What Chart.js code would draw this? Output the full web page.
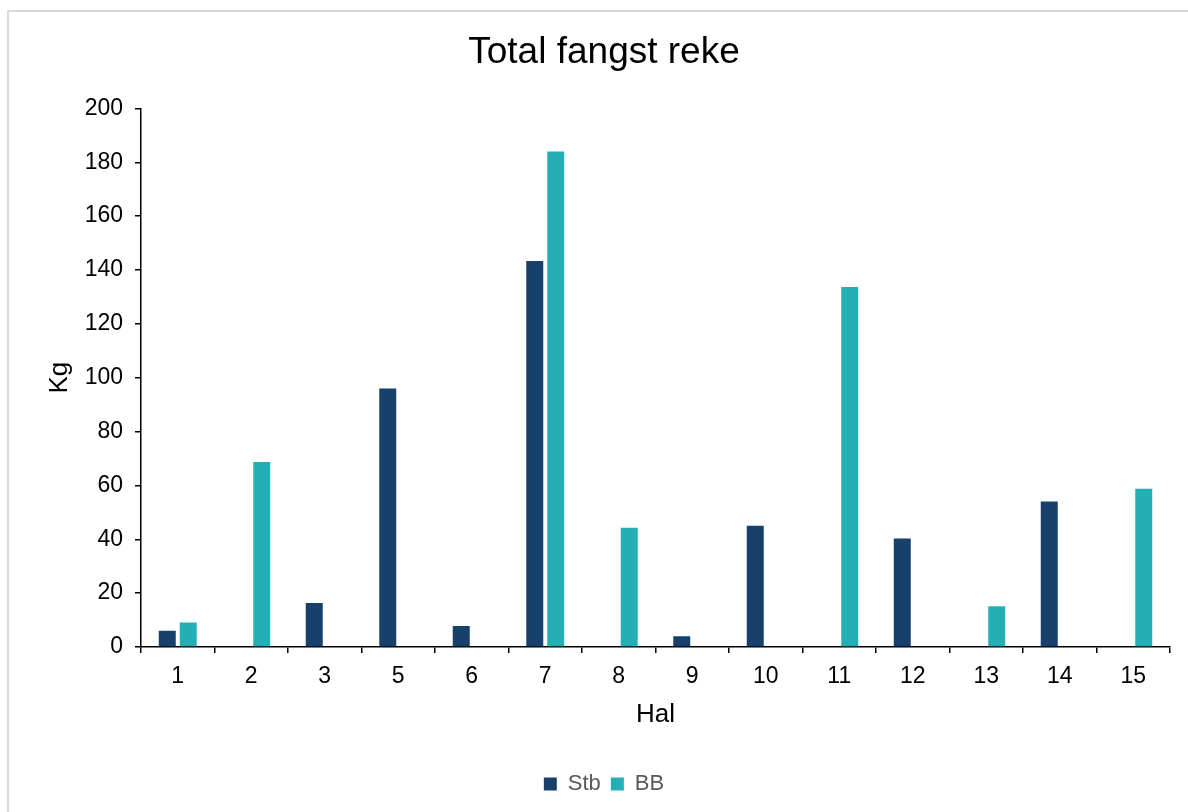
<!DOCTYPE html>
<html>
<head>
<meta charset="utf-8">
<title>Total fangst reke</title>
<script src="https://cdn.jsdelivr.net/npm/chart.js@4.4.1/dist/chart.umd.min.js"></script>
<style>
  html, body { margin: 0; padding: 0; background: #ffffff; overflow: hidden; }
  #frame { position: absolute; left: 7px; top: 10px; width: 2000px; height: 2000px;
           border: 2px solid #d9d9d9; box-sizing: border-box; }
  #wrap { position: absolute; left: 0; top: 0; width: 1188px; height: 812px; }
</style>
</head>
<body>
<div id="frame"></div>
<div id="wrap"><canvas id="chart" width="1188" height="812"></canvas></div>
<script>
// Haul numbers (x categories)
const hal = ['1', '2', '3', '5', '6', '7', '8', '9', '10', '11', '12', '13', '14', '15'];

// Total shrimp catch per haul, kg
const stb = [6, null, 16.3, 96, 7.8, 143.3, null, 4, 45, null, 40.3, null, 54, null];
const bb  = [9.1, 68.7, null, null, null, 184, 44.3, null, null, 133.7, null, 15.1, null, 58.8];

// Y axis tick range
const yMin = 0;
const yMax = 200;
const yStep = 20;

const FONT = 'Arial, "Liberation Sans", Helvetica, sans-serif';
const PAD_LEFT = 38;

const axisGrid = {
  display: true,
  drawOnChartArea: false,
  drawTicks: true,
  tickLength: 6,
  color: '#000000',
  lineWidth: 1.5
};

new Chart(document.getElementById('chart'), {
  type: 'bar',
  data: {
    labels: hal,
    datasets: [
      { label: 'Stb', data: stb, backgroundColor: '#17406b', borderWidth: 0 },
      { label: 'BB',  data: bb,  backgroundColor: '#23afb5', borderWidth: 0 }
    ]
  },
  options: {
    responsive: false,
    animation: false,
    devicePixelRatio: 1,
    categoryPercentage: 0.571,
    barPercentage: 0.81,
    layout: { padding: { left: PAD_LEFT, right: 18, top: 10, bottom: 7 } },
    plugins: {
      title: {
        display: true,
        text: 'Total fangst reke',
        color: '#000000',
        font: { family: FONT, size: 37, weight: 'normal' },
        padding: { top: 21, bottom: 33 }
      },
      legend: {
        display: true,
        position: 'bottom',
        labels: {
          color: '#595959',
          font: { family: FONT, size: 22 },
          boxWidth: 13,
          boxHeight: 13,
          padding: 10
        }
      },
      tooltip: { enabled: false }
    },
    scales: {
      x: {
        offset: true,
        grid: Object.assign({ offset: true }, axisGrid),
        border: { display: true, color: '#000000', width: 1.5 },
        ticks: { color: '#000000', font: { family: FONT, size: 23 }, padding: 10, maxRotation: 0 },
        title: {
          display: true, text: 'Hal', color: '#000000',
          font: { family: FONT, size: 26 },
          padding: { top: 4, bottom: 33 }
        },
        afterFit: (scale) => { scale.height = 116; }
      },
      y: {
        min: yMin,
        max: yMax,
        grid: axisGrid,
        border: { display: true, color: '#000000', width: 1.5 },
        ticks: { stepSize: yStep, color: '#000000', font: { family: FONT, size: 23 }, padding: 12 },
        title: {
          display: true, text: 'Kg', color: '#000000',
          font: { family: FONT, size: 26 },
          padding: { top: 6, bottom: 4 }
        },
        afterFit: (scale) => { scale.width = 141 - PAD_LEFT; }
      }
    }
  }
});
</script>
</body>
</html>
